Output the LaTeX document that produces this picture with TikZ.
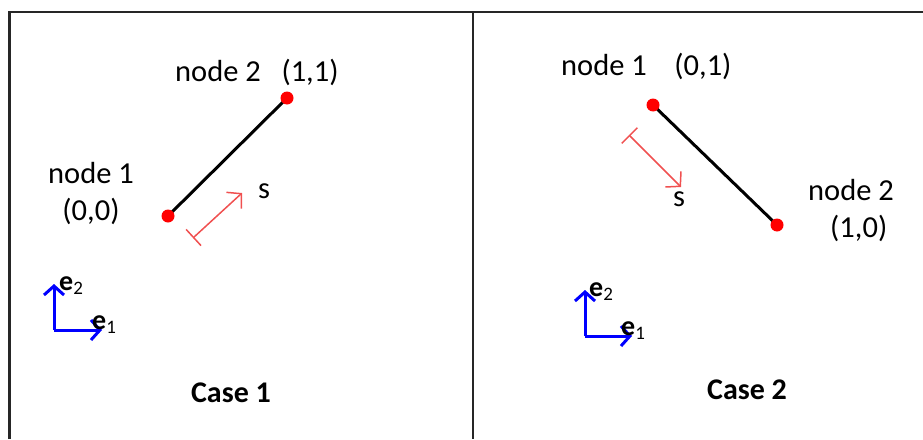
\documentclass[tikz,border=0pt]{standalone}
\usepackage{fontspec}
\setmainfont{Carlito}
\usetikzlibrary{arrows.meta,backgrounds}
\begin{document}
\begin{tikzpicture}[x=1pt,y=-1pt,
  lbl/.style={inner sep=0pt,font=\fontsize{30.5}{34}\selectfont},
  casetitle/.style={inner sep=0pt,font=\fontsize{30}{34}\selectfont\bfseries},
  elbl/.style={inner sep=0pt,font=\fontsize{28}{30}\selectfont},
  dot/.style={circle,fill=red,inner sep=0pt,minimum size=13pt},
  bar/.style={black,line width=3pt},
  sarrow/.style={draw={rgb,255:red,240;green,80;blue,80},line width=1.5pt,{Bar[width=22pt]}-{Straight Barb[length=10pt,width=22pt]}},
  axis/.style={draw=blue,line width=3pt,-{Straight Barb[length=9pt,width=20pt]}},
  frame/.style={draw=black!85,line width=2.6pt}]
\useasboundingbox (0,0) rectangle (923,439);
% frame
\coordinate (tl) at (9.5,12);
\coordinate (bl) at (9.5,439);
\coordinate (tr) at (923,12);
\coordinate (mt) at (473,12);
\coordinate (mb) at (473,439);
\draw[frame] (bl) -- (tl) -- (tr);
\draw[frame,line width=1.6pt] (mt) -- (mb);
% ---- Case 1
\node[dot] (a1) at (168,216) {};
\node[dot] (a2) at (287,98) {};
\begin{pgfonlayer}{background}
\draw[bar] (a1.center) -- (a2.center);
\end{pgfonlayer}
\coordinate (s1a) at (193,238);
\coordinate (s1b) at (242,193);
\draw[sarrow] (s1a) -- (s1b);
\node[lbl] (s1) at (264,191) {s};
\node[lbl,anchor=west] (n2a) at (175,72) {node 2\ \ \ (1,1)};
\node[lbl] (n1a) at (91,173) {node 1};
\node[lbl] (c1a) at (91,211) {(0,0)};
\coordinate (o1) at (54,330);
\coordinate (u1) at (54,284);
\coordinate (r1) at (102,330);
\draw[axis] (o1) -- (u1);
\draw[axis] (o1) -- (r1);
\node[elbl,anchor=base west] (e2a) at (59,290) {\textbf{e}\raisebox{-4pt}{\fontsize{19}{20}\selectfont 2}};
\node[elbl,anchor=base west] (e1a) at (92,329) {\textbf{e}\raisebox{-4pt}{\fontsize{19}{20}\selectfont 1}};
\node[casetitle] (case1) at (231,393) {Case 1};
% ---- Case 2
\node[dot] (b1) at (653,105) {};
\node[dot] (b2) at (777,225) {};
\begin{pgfonlayer}{background}
\draw[bar] (b1.center) -- (b2.center);
\end{pgfonlayer}
\coordinate (s2a) at (629,135);
\coordinate (s2b) at (681,187);
\draw[sarrow] (s2a) -- (s2b);
\node[lbl] (s2) at (679,199) {s};
\node[lbl,anchor=west] (n1b) at (561,66) {node 1\ \ \ \ (0,1)};
\node[lbl,anchor=west] (n2b) at (808,190) {node 2};
\node[lbl,anchor=west] (c2b) at (830,228) {(1,0)};
\coordinate (o2) at (585,336);
\coordinate (u2) at (585,290);
\coordinate (r2) at (632,336);
\draw[axis] (o2) -- (u2);
\draw[axis] (o2) -- (r2);
\node[elbl,anchor=base west] (e2b) at (589,296) {\textbf{e}\raisebox{-4pt}{\fontsize{19}{20}\selectfont 2}};
\node[elbl,anchor=base west] (e1b) at (621,335) {\textbf{e}\raisebox{-4pt}{\fontsize{19}{20}\selectfont 1}};
\node[casetitle] (case2) at (747,390) {Case 2};
\end{tikzpicture}
\end{document}
